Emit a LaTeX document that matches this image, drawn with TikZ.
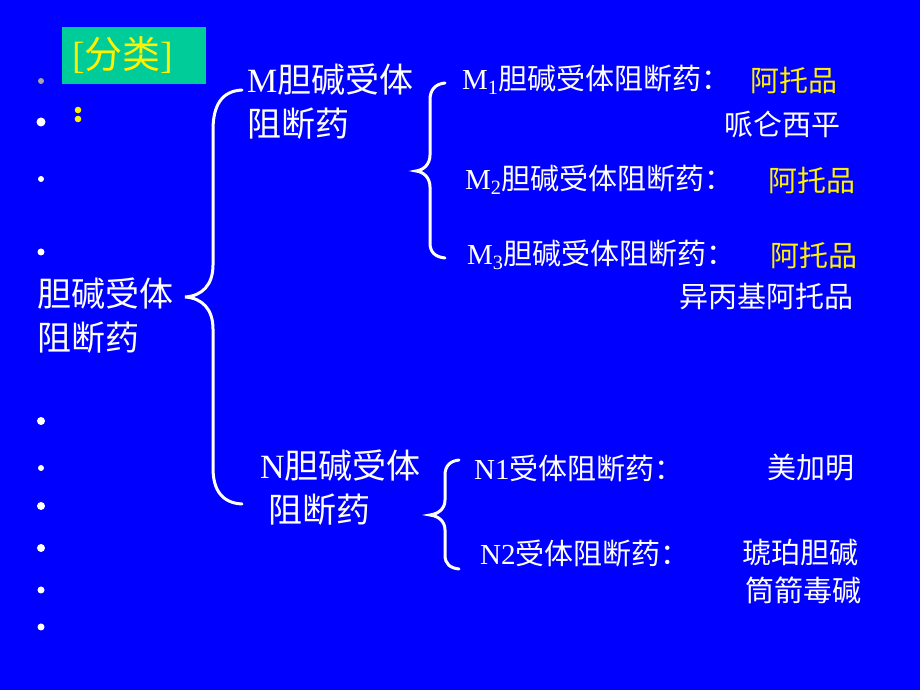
\documentclass[tikz,border=0pt]{standalone}
\usepackage{fontspec}
\setmainfont{Liberation Serif}
\newfontfamily\cjk{Noto Sans CJK SC}
\usepackage{tikz}
\usetikzlibrary{positioning}
\definecolor{slideblue}{RGB}{0,0,255}
\definecolor{tagbox}{RGB}{0,204,153}
\tikzset{big/.style={text=white, inner sep=0pt, anchor=west, align=left,
                     font=\cjk\fontsize{34}{44}\selectfont},
         item/.style={text=white, inner sep=0pt, anchor=west,
                      font=\cjk\fontsize{29}{34}\selectfont},
         drug/.style={item, text=yellow},
         brace/.style={draw=white, line width=3pt, line cap=round}
}

\begin{document}
\begin{tikzpicture}[x=1pt, y=1pt]
       \fill[slideblue] (0,0) rectangle (920,690);
       \useasboundingbox (0,0) rectangle (920,690);
       % bullets down the left edge
       \fill[gray!70] (41,609) circle (3);
       \foreach \y/\r in {568/4.5, 511/3, 438/3.5, 269/4, 222/3, 184/4, 142/4, 100/3.5, 63/3.5}
           \fill[white] (41,\y) circle (\r);
       \fill[yellow] (78,580) circle (3.3) (78,571) circle (3.3);
       \node[fill=tagbox, text=yellow, minimum width=144pt, minimum height=57pt,
             inner xsep=10pt, text width=124pt, align=left, anchor=west,
             font=\cjk\fontsize{38}{40}\selectfont] (tag) at (62,634.5) {\textrm{[}分类\textrm{]}};
       % root and the two groups
       \node[big] (root) at (37,374) {胆碱受体\\阻断药};
       \node[big] (M) at (247,588) {\textrm{M}胆碱受体\\阻断药};
       \node[big] (N) at (260,202) {\textrm{N}胆碱受体\\\hspace*{8pt}阻断药};
       % M receptors
       \node[item] (M1) at (462,610) {\textrm{M\textsubscript{1}}胆碱受体阻断药：};
       \node[drug] (M1a) at (750,610) {阿托品};
       \node[item] (M1b) at (724,565) {哌仑西平};
       \node[item] (M2) at (465,510) {\textrm{M\textsubscript{2}}胆碱受体阻断药：};
       \node[drug] (M2a) at (768,510) {阿托品};
       \node[item] (M3) at (467,435) {\textrm{M\textsubscript{3}}胆碱受体阻断药：};
       \node[drug] (M3a) at (770,435) {阿托品};
       \node[item] (M3b) at (679,393) {异丙基阿托品};
       % N receptors
       \node[item] (N1) at (474,222) {\textrm{N1}受体阻断药：};
       \node[item] (N1a) at (767,222) {美加明};
       \node[item] (N2) at (480,137) {\textrm{N2}受体阻断药：};
       \node[item] (N2a) at (742,137) {琥珀胆碱};
       \node[item] (N2b) at (745,100) {筒箭毒碱};
       % braces
       \draw[brace] (242,600) .. controls (222,599) and (213,585) .. (213,560) -- (213,425)
                    .. controls (213,405) and (202,394) .. (185,393)
                    .. controls (202,392) and (213,381) .. (213,361) -- (213,222)
                    .. controls (213,200) and (222,187) .. (242,186);
       \draw[brace] (445,607) .. controls (435,606) and (430,600) .. (430,590) -- (430,535)
                    .. controls (430,526) and (424,520) .. (416,519)
                    .. controls (424,518) and (430,512) .. (430,503) -- (430,447)
                    .. controls (430,438) and (435,433) .. (445,432);
       \draw[brace] (459,230) .. controls (450,229) and (445,224) .. (445,215) -- (445,190)
                    .. controls (445,181) and (438,176) .. (430,175)
                    .. controls (438,174) and (445,169) .. (445,160) -- (445,135)
                    .. controls (445,126) and (450,122) .. (459,121);
\end{tikzpicture}
\end{document}
